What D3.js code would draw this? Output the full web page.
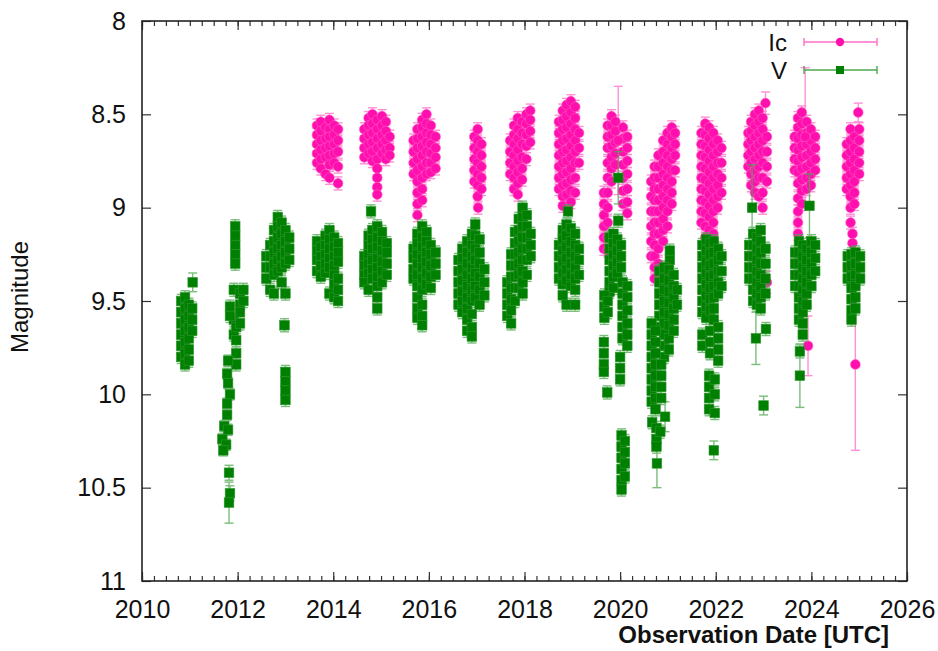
<!DOCTYPE html>
<html>
<head>
<meta charset="utf-8">
<script src="https://cdn.jsdelivr.net/npm/d3@7"></script>
<style>
  body { margin: 0; background: #fff; }
  svg { font-family: "Liberation Sans", Arial, sans-serif; }
</style>
</head>
<body>
<div id="chart"></div>
<script>
// tick labels
var xTicks = [2010, 2012, 2014, 2016, 2018, 2020, 2022, 2024, 2026];
var yTicks = [8, 8.5, 9, 9.5, 10, 10.5, 11];
var seriesNames = ["Ic", "V"];

// typical error when not given with the point
var defaultErr = 0.035;

// Ic observations: [date, [magnitudes...]]
var icColumns = [
  [2013.66, [8.56, 8.61, 8.66, 8.71, 8.76]],
  [2013.74, [8.54, 8.59, 8.64, 8.69, 8.74, 8.79]],
  [2013.84, [8.57, 8.63, 8.68, 8.73, 8.82]],
  [2013.92, [8.53, 8.58, 8.62, 8.67, 8.72, 8.77, 8.84]],
  [2014.02, [8.56, 8.61, 8.66, 8.71, 8.76]],
  [2014.10, [8.58, 8.64, 8.70, 8.78, 8.87]],
  [2014.65, [8.58, 8.63, 8.68, 8.73]],
  [2014.74, [8.52, 8.56, 8.61, 8.66, 8.71]],
  [2014.82, [8.50, 8.55, 8.60, 8.65, 8.70, 8.75]],
  [2014.92, [8.53, 8.58, 8.63, 8.68, 8.74, 8.79, 8.84, 8.89, 8.93]],
  [2015.02, [8.51, 8.56, 8.61, 8.66, 8.71]],
  [2015.10, [8.54, 8.59, 8.64, 8.69, 8.74]],
  [2015.18, [8.62, 8.68, 8.72]],
  [2015.68, [8.64, 8.70, 8.76, 8.82]],
  [2015.76, [8.58, 8.63, 8.68, 8.74, 8.80, 8.86, 8.92, 8.98, 9.04]],
  [2015.86, [8.53, 8.57, 8.62, 8.67, 8.72, 8.78, 8.84, 8.90, 8.96]],
  [2015.95, [8.50, 8.55, 8.60, 8.65, 8.70, 8.76, 8.82]],
  [2016.04, [8.56, 8.61, 8.66, 8.71, 8.76, 8.81]],
  [2016.14, [8.62, 8.68, 8.73, 8.79]],
  [2016.95, [8.62, 8.68, 8.74, 8.80, 8.86]],
  [2017.02, [8.58, 8.64, 8.70, 8.76, 8.82, 8.88, 8.94]],
  [2017.10, [8.66, 8.72, 8.78, 8.84, 8.90]],
  [2017.03, [9.00]],
  [2017.70, [8.64, 8.70, 8.76, 8.82]],
  [2017.78, [8.56, 8.61, 8.66, 8.72, 8.78, 8.84, 8.90]],
  [2017.86, [8.52, 8.58, 8.63, 8.69, 8.75, 8.81, 8.87, 8.93]],
  [2017.95, [8.54, 8.60, 8.66, 8.73, 8.79, 8.85]],
  [2018.04, [8.50, 8.55, 8.61, 8.67, 8.74]],
  [2018.12, [8.48, 8.53, 8.59, 8.65]],
  [2018.72, [8.54, 8.60, 8.66, 8.72, 8.78, 8.84, 8.90]],
  [2018.80, [8.48, 8.53, 8.58, 8.64, 8.70, 8.76, 8.82, 8.88, 8.94, 8.99]],
  [2018.88, [8.45, 8.51, 8.57, 8.63, 8.69, 8.75, 8.81, 8.87, 8.93]],
  [2018.97, [8.43, 8.49, 8.55, 8.61, 8.67, 8.73, 8.79, 8.85, 8.91, 8.97]],
  [2019.06, [8.46, 8.52, 8.58, 8.64, 8.70, 8.76, 8.84, 8.92]],
  [2019.14, [8.60, 8.68, 8.76]],
  [2019.66, [8.92, 8.98, 9.04, 9.10, 9.16, 9.22]],
  [2019.74, [8.56, 8.62, 8.68, 8.76, 8.84, 8.92, 9.00, 9.08, 9.16, 9.23]],
  [2019.82, [8.51, 8.56, 8.61, 8.67, 8.73, 8.79, 8.86]],
  [2019.90, [8.54, 8.59, 8.65, 8.71, 8.77]],
  [2020.06, [8.57, 8.63, 8.70, 8.77, 8.84, 8.91, 8.98]],
  [2020.15, [8.62, 8.68, 8.75, 8.82, 8.90, 8.97, 9.03]],
  [2020.65, [8.86, 8.94, 9.02, 9.10, 9.18, 9.26]],
  [2020.72, [8.78, 8.84, 8.90, 8.96, 9.02, 9.08, 9.14, 9.20, 9.26, 9.32, 9.38]],
  [2020.80, [8.72, 8.78, 8.84, 8.90, 8.96, 9.02, 9.08, 9.14, 9.22, 9.30]],
  [2020.90, [8.64, 8.70, 8.76, 8.82, 8.88, 8.94, 9.00, 9.06, 9.12, 9.18]],
  [2020.99, [8.60, 8.66, 8.72, 8.78, 8.84, 8.90, 8.96, 9.02, 9.10]],
  [2021.08, [8.57, 8.62, 8.68, 8.74, 8.80, 8.86, 8.92, 8.98]],
  [2021.15, [8.60, 8.66, 8.72, 8.80]],
  [2021.70, [8.60, 8.66, 8.72, 8.78, 8.84, 8.90, 8.96, 9.02, 9.08]],
  [2021.78, [8.55, 8.61, 8.67, 8.73, 8.79, 8.85, 8.91, 8.97, 9.03, 9.10, 9.16]],
  [2021.86, [8.57, 8.63, 8.69, 8.75, 8.81, 8.87, 8.93, 8.99, 9.05, 9.12, 9.20, 9.28]],
  [2021.95, [8.60, 8.66, 8.72, 8.78, 8.84, 8.90, 8.96, 9.02, 9.08, 9.14]],
  [2022.04, [8.64, 8.70, 8.76, 8.82, 8.88, 8.94, 9.00]],
  [2022.12, [8.68, 8.76, 8.84, 8.92]],
  [2022.68, [8.60, 8.66, 8.72, 8.78]],
  [2022.74, [8.54, 8.59, 8.64, 8.70, 8.76, 8.82, 8.88]],
  [2022.82, [8.50, 8.56, 8.62, 8.68, 8.74, 8.80, 8.86, 8.92]],
  [2022.90, [8.48, 8.54, 8.60, 8.66, 8.72, 8.78, 8.84, 8.94]],
  [2022.98, [8.52, 8.58, 8.64, 8.70, 8.76, 8.84, 8.92, 9.00]],
  [2023.07, [8.62, 8.70, 8.78, 8.86]],
  [2023.65, [8.62, 8.68, 8.74, 8.80]],
  [2023.72, [8.52, 8.57, 8.63, 8.69, 8.75, 8.81, 8.87, 8.95, 9.02, 9.08, 9.14]],
  [2023.80, [8.49, 8.55, 8.61, 8.67, 8.73, 8.79, 8.85, 8.91, 8.98]],
  [2023.90, [8.54, 8.60, 8.66, 8.72, 8.78, 8.84, 8.90]],
  [2023.99, [8.58, 8.64, 8.70, 8.76, 8.82, 8.88]],
  [2024.08, [8.62, 8.68, 8.74, 8.80]],
  [2024.74, [8.66, 8.72, 8.78, 8.84, 8.90]],
  [2024.82, [8.58, 8.64, 8.70, 8.76, 8.82, 8.88, 8.94, 9.00, 9.08]],
  [2024.90, [8.62, 8.68, 8.74, 8.80, 8.86, 8.92, 8.98]],
  [2025.00, [8.58, 8.64, 8.70, 8.76, 8.82]],
  [2024.86, [9.14, 9.19]]
];

// Ic points with their own error: [date, mag, err]
var icErrPoints = [
  [2019.96, 8.64, 0.29],
  [2023.04, 8.44, 0.06],
  [2023.07, 9.40, 0.06],
  [2023.87, 8.62, 0.37],
  [2023.93, 9.74, 0.16],
  [2024.98, 8.49, 0.05],
  [2024.92, 9.84, 0.46]
];

// V observations: [date, [magnitudes...]]
var vColumns = [
  [2010.82, [9.50, 9.56, 9.62, 9.68, 9.74, 9.80]],
  [2010.90, [9.48, 9.54, 9.60, 9.66, 9.72, 9.78, 9.84]],
  [2010.98, [9.52, 9.58, 9.64, 9.70, 9.76, 9.82]],
  [2011.05, [9.54, 9.60, 9.66]],
  [2011.95, [9.10, 9.15, 9.20, 9.25, 9.30]],
  [2011.92, [9.44, 9.60, 9.68]],
  [2011.84, [9.53, 9.58]],
  [2011.97, [9.64, 9.71, 9.78, 9.84]],
  [2012.05, [9.46, 9.52, 9.56, 9.62]],
  [2012.12, [9.44, 9.50]],
  [2012.60, [9.26, 9.32, 9.38]],
  [2012.68, [9.20, 9.26, 9.32, 9.44]],
  [2012.76, [9.12, 9.18, 9.24, 9.30, 9.36, 9.46]],
  [2012.84, [9.05, 9.10, 9.16, 9.22, 9.28, 9.34]],
  [2012.92, [9.08, 9.14, 9.20, 9.26, 9.32, 9.40]],
  [2013.00, [9.12, 9.18, 9.24, 9.30, 9.46]],
  [2013.08, [9.16, 9.22, 9.28]],
  [2012.98, [9.63]],
  [2013.00, [9.88, 9.93, 9.98, 10.03]],
  [2013.66, [9.18, 9.23, 9.28, 9.34]],
  [2013.74, [9.21, 9.26, 9.31, 9.37]],
  [2013.84, [9.15, 9.20, 9.25, 9.30, 9.35]],
  [2013.92, [9.12, 9.17, 9.22, 9.27, 9.32, 9.46]],
  [2014.02, [9.16, 9.21, 9.26, 9.31, 9.36, 9.41, 9.48]],
  [2014.10, [9.19, 9.24, 9.29, 9.38, 9.44, 9.50]],
  [2014.79, [9.02]],
  [2014.65, [9.26, 9.31, 9.36, 9.40]],
  [2014.74, [9.15, 9.20, 9.25, 9.30, 9.35, 9.44]],
  [2014.82, [9.12, 9.17, 9.22, 9.28, 9.33, 9.38]],
  [2014.92, [9.10, 9.16, 9.21, 9.27, 9.32, 9.37, 9.42, 9.48, 9.54]],
  [2015.02, [9.13, 9.18, 9.23, 9.29, 9.34, 9.40]],
  [2015.12, [9.19, 9.24, 9.30, 9.36]],
  [2015.68, [9.22, 9.27, 9.33, 9.38]],
  [2015.76, [9.14, 9.19, 9.25, 9.30, 9.36, 9.42, 9.48, 9.54, 9.59]],
  [2015.86, [9.10, 9.16, 9.21, 9.27, 9.32, 9.38, 9.44, 9.52, 9.58, 9.63]],
  [2015.95, [9.13, 9.18, 9.24, 9.29, 9.35, 9.41]],
  [2016.04, [9.20, 9.25, 9.31, 9.37, 9.43]],
  [2016.14, [9.24, 9.30, 9.36]],
  [2016.62, [9.28, 9.34, 9.40, 9.46, 9.52]],
  [2016.70, [9.22, 9.27, 9.33, 9.39, 9.45, 9.50, 9.56]],
  [2016.80, [9.18, 9.24, 9.30, 9.36, 9.42, 9.48, 9.54, 9.60, 9.66]],
  [2016.90, [9.14, 9.20, 9.26, 9.32, 9.38, 9.44, 9.50, 9.57, 9.64, 9.69]],
  [2016.97, [9.09, 9.15, 9.22, 9.28, 9.35, 9.42, 9.48]],
  [2017.06, [9.17, 9.24, 9.30, 9.37, 9.44, 9.52]],
  [2017.16, [9.33, 9.40, 9.47]],
  [2017.64, [9.40, 9.46, 9.52, 9.58]],
  [2017.72, [9.25, 9.31, 9.37, 9.43, 9.49, 9.55, 9.62]],
  [2017.80, [9.13, 9.19, 9.25, 9.31, 9.37, 9.43, 9.50]],
  [2017.88, [9.06, 9.12, 9.18, 9.24, 9.30, 9.36, 9.43]],
  [2017.96, [9.00, 9.05, 9.10, 9.16, 9.22, 9.28, 9.34, 9.40, 9.46]],
  [2018.05, [9.04, 9.10, 9.16, 9.22, 9.28, 9.36]],
  [2018.13, [9.14, 9.20, 9.26]],
  [2018.91, [9.02]],
  [2018.72, [9.20, 9.26, 9.32, 9.38]],
  [2018.80, [9.12, 9.17, 9.23, 9.29, 9.35, 9.41, 9.47]],
  [2018.88, [9.09, 9.15, 9.21, 9.27, 9.33, 9.39, 9.52]],
  [2018.97, [9.11, 9.18, 9.24, 9.30, 9.36, 9.42]],
  [2019.06, [9.14, 9.20, 9.26, 9.32, 9.38, 9.44, 9.52]],
  [2019.14, [9.22, 9.28, 9.36]],
  [2019.78, [9.16, 9.22, 9.28, 9.34, 9.40, 9.45]],
  [2019.86, [9.14, 9.19, 9.25, 9.31, 9.37, 9.43]],
  [2019.94, [9.17, 9.23, 9.29, 9.35]],
  [2020.02, [9.20, 9.26, 9.32]],
  [2019.67, [9.47, 9.53, 9.59]],
  [2019.74, [9.50, 9.56]],
  [2020.05, [9.40, 9.46, 9.52, 9.58, 9.64, 9.70]],
  [2020.15, [9.42, 9.48, 9.55, 9.62, 9.68, 9.74]],
  [2020.00, [9.80, 9.86, 9.92]],
  [2019.66, [9.72, 9.78, 9.84, 9.88]],
  [2019.73, [9.99]],
  [2020.03, [10.22, 10.28, 10.34, 10.40, 10.46, 10.51]],
  [2020.10, [10.25, 10.31, 10.37, 10.44]],
  [2019.96, [9.07]],
  [2021.04, [9.23, 9.28]],
  [2020.82, [9.34, 9.40, 9.46, 9.52, 9.58, 9.64]],
  [2020.92, [9.32, 9.38, 9.44, 9.50, 9.56, 9.62, 9.68, 9.74, 9.80]],
  [2021.02, [9.33, 9.39, 9.45, 9.51, 9.57, 9.63, 9.70, 9.76]],
  [2021.12, [9.36, 9.42, 9.48, 9.54, 9.60, 9.66]],
  [2021.19, [9.44, 9.52]],
  [2020.66, [9.62, 9.68, 9.74, 9.80, 9.86, 9.92, 9.98, 10.04]],
  [2020.74, [9.66, 9.72, 9.78, 9.84, 9.90, 9.96, 10.02, 10.08]],
  [2020.86, [9.84, 9.90, 9.96, 10.02]],
  [2020.67, [10.15]],
  [2020.76, [10.18, 10.24, 10.28]],
  [2020.84, [10.20]],
  [2021.72, [9.20, 9.26, 9.32, 9.38, 9.44, 9.50, 9.56, 9.68, 9.74]],
  [2021.80, [9.17, 9.23, 9.29, 9.35, 9.41, 9.47, 9.53, 9.59]],
  [2021.88, [9.19, 9.25, 9.31, 9.37, 9.43, 9.49, 9.55, 9.66, 9.72, 9.78]],
  [2021.96, [9.18, 9.24, 9.30, 9.36, 9.42, 9.48, 9.54, 9.60]],
  [2022.05, [9.22, 9.28, 9.34, 9.40, 9.46, 9.64, 9.70, 9.76, 9.82]],
  [2022.12, [9.26, 9.34, 9.42]],
  [2021.86, [9.90, 9.96, 10.02, 10.08]],
  [2021.98, [9.92, 10.00, 10.10]],
  [2022.70, [9.20, 9.26, 9.32, 9.38]],
  [2022.78, [9.14, 9.20, 9.26, 9.32, 9.38, 9.44, 9.50]],
  [2022.86, [9.16, 9.22, 9.28, 9.34, 9.40, 9.46, 9.52]],
  [2022.94, [9.12, 9.18, 9.24, 9.30, 9.36, 9.42, 9.48, 9.54]],
  [2023.04, [9.22, 9.30, 9.38, 9.46]],
  [2023.05, [9.65]],
  [2023.66, [9.24, 9.30, 9.36, 9.42]],
  [2023.74, [9.18, 9.24, 9.30, 9.36, 9.42, 9.48, 9.54, 9.60]],
  [2023.82, [9.20, 9.26, 9.32, 9.38, 9.44, 9.50, 9.56, 9.62, 9.68]],
  [2023.90, [9.22, 9.28, 9.34, 9.40, 9.46, 9.52]],
  [2024.00, [9.18, 9.24, 9.30, 9.36, 9.42]],
  [2024.08, [9.20, 9.27, 9.34]],
  [2023.76, [9.77]],
  [2024.76, [9.26, 9.32, 9.38]],
  [2024.84, [9.25, 9.31, 9.37, 9.43, 9.49, 9.55, 9.60]],
  [2024.92, [9.24, 9.30, 9.36, 9.42, 9.48, 9.54]],
  [2025.02, [9.26, 9.32, 9.38]]
];

// V points with their own error: [date, mag, err]
var vErrPoints = [
  [2011.06, 9.40, 0.05],
  [2011.80, 9.82, 0.03], [2011.78, 9.89, 0.03], [2011.80, 9.94, 0.03],
  [2011.84, 10.00, 0.03], [2011.78, 10.05, 0.03], [2011.78, 10.11, 0.03],
  [2011.72, 10.17, 0.03], [2011.80, 10.19, 0.03], [2011.68, 10.24, 0.03],
  [2011.76, 10.27, 0.03], [2011.70, 10.30, 0.03], [2011.82, 10.42, 0.04],
  [2011.84, 10.53, 0.04], [2011.82, 10.58, 0.11],
  [2019.96, 8.84, 0.14],
  [2020.77, 10.37, 0.13],
  [2020.94, 10.12, 0.08],
  [2021.96, 10.30, 0.05],
  [2022.76, 9.00, 0.23],
  [2022.84, 9.70, 0.14],
  [2023.00, 10.06, 0.05],
  [2023.76, 9.90, 0.17],
  [2023.96, 8.99, 0.17]
];

// flatten into {t, mag, err}
function toPoints(columns, extra) {
  var pts = [];
  columns.forEach(function(c) {
    c[1].forEach(function(m) { pts.push({t: c[0], mag: m, err: defaultErr}); });
  });
  extra.forEach(function(p) { pts.push({t: p[0], mag: p[1], err: p[2]}); });
  return pts;
}
var icData = toPoints(icColumns, icErrPoints);
var vData = toPoints(vColumns, vErrPoints);

var svgWidth = 938;
var svgHeight = 651;
var margin = {top: 21, right: 31, bottom: 70, left: 142};
var width = svgWidth - margin.left - margin.right;
var height = svgHeight - margin.top - margin.bottom;

var pink = "#ff0fae", pinkBar = "#ff6cc8";
var green = "#008000", greenBar = "#4fa84f";

var svg = d3.select("#chart").append("svg")
  .attr("width", svgWidth)
  .attr("height", svgHeight);

var chartGroup = svg.append("g")
  .attr("transform", `translate(${margin.left}, ${margin.top})`);

var xScale = d3.scaleLinear().domain([2010, 2026]).range([0, width]);
var yScale = d3.scaleLinear().domain([8, 11]).range([0, height]);

var minorX = d3.range(2010, 2026.001, 0.25);

// axes, ticks pointing inward
function styleAxis(g) {
  g.select(".domain").remove();
  g.selectAll(".tick line").attr("stroke", "#333").attr("stroke-width", 1.2);
  g.selectAll("text").attr("fill", "#111").attr("font-size", "25px");
}

chartGroup.append("g")
  .attr("transform", `translate(0, ${height})`)
  .call(d3.axisBottom(xScale).tickValues(minorX).tickSize(-5).tickFormat(""))
  .call(styleAxis);
chartGroup.append("g")
  .attr("transform", `translate(0, ${height})`)
  .call(d3.axisBottom(xScale).tickValues(xTicks).tickSize(-9).tickPadding(19).tickFormat(d => d))
  .call(styleAxis);
chartGroup.append("g")
  .call(d3.axisTop(xScale).tickValues(minorX).tickSize(-5).tickFormat(""))
  .call(styleAxis);
chartGroup.append("g")
  .call(d3.axisTop(xScale).tickValues(xTicks).tickSize(-9).tickFormat(""))
  .call(styleAxis);
chartGroup.append("g")
  .call(d3.axisLeft(yScale).tickValues(yTicks).tickSize(-9).tickPadding(16).tickFormat(d => String(d)))
  .call(styleAxis);
chartGroup.append("g")
  .attr("transform", `translate(${width}, 0)`)
  .call(d3.axisRight(yScale).tickValues(yTicks).tickSize(-9).tickFormat(""))
  .call(styleAxis);

// plotted data with error bars
var plotArea = chartGroup.append("g");
var cap = 4.5;

function drawBars(data, color) {
  var g = plotArea.append("g")
    .attr("stroke", color)
    .attr("stroke-width", 1.4)
    .attr("opacity", 0.75);
  g.selectAll("line.bar").data(data).enter().append("line")
    .attr("x1", d => xScale(d.t)).attr("x2", d => xScale(d.t))
    .attr("y1", d => yScale(d.mag - d.err)).attr("y2", d => yScale(d.mag + d.err));
  g.selectAll("line.top").data(data).enter().append("line")
    .attr("x1", d => xScale(d.t) - cap).attr("x2", d => xScale(d.t) + cap)
    .attr("y1", d => yScale(d.mag - d.err)).attr("y2", d => yScale(d.mag - d.err));
  g.selectAll("line.bot").data(data).enter().append("line")
    .attr("x1", d => xScale(d.t) - cap).attr("x2", d => xScale(d.t) + cap)
    .attr("y1", d => yScale(d.mag + d.err)).attr("y2", d => yScale(d.mag + d.err));
}

drawBars(icData, pinkBar);
plotArea.append("g").selectAll("circle")
  .data(icData)
  .enter()
  .append("circle")
  .attr("cx", d => xScale(d.t))
  .attr("cy", d => yScale(d.mag))
  .attr("r", 4.9)
  .attr("fill", pink)
  .attr("stroke", "#ff5cc4")
  .attr("stroke-width", 0.6);

drawBars(vData, greenBar);
var sq = 9.6;
plotArea.append("g").selectAll("rect")
  .data(vData)
  .enter()
  .append("rect")
  .attr("x", d => xScale(d.t) - sq / 2)
  .attr("y", d => yScale(d.mag) - sq / 2)
  .attr("width", sq)
  .attr("height", sq)
  .attr("fill", green)
  .attr("stroke", "#2f962f")
  .attr("stroke-width", 0.6);

// frame
chartGroup.append("rect")
  .attr("width", width)
  .attr("height", height)
  .attr("fill", "none")
  .attr("stroke", "#222")
  .attr("stroke-width", 1.6);

// legend
var legend = svg.append("g");
var legendRows = [
  {name: seriesNames[0], y: 42, color: pink, bar: pinkBar, shape: "circle"},
  {name: seriesNames[1], y: 70, color: green, bar: greenBar, shape: "square"}
];
legendRows.forEach(function(r) {
  legend.append("text")
    .attr("x", 787).attr("y", r.y)
    .attr("dy", "0.36em")
    .attr("text-anchor", "end")
    .attr("font-size", "24px")
    .attr("fill", "#111")
    .text(r.name);
  var lg = legend.append("g").attr("stroke", r.bar).attr("stroke-width", 1.4);
  lg.append("line").attr("x1", 804).attr("x2", 877).attr("y1", r.y).attr("y2", r.y);
  lg.append("line").attr("x1", 804).attr("x2", 804).attr("y1", r.y - 4).attr("y2", r.y + 4);
  lg.append("line").attr("x1", 877).attr("x2", 877).attr("y1", r.y - 4).attr("y2", r.y + 4);
  if (r.shape === "circle") {
    legend.append("circle").attr("cx", 840).attr("cy", r.y).attr("r", 4.2).attr("fill", r.color);
  } else {
    legend.append("rect").attr("x", 836).attr("y", r.y - 4).attr("width", 8).attr("height", 8).attr("fill", r.color);
  }
});

// axis titles
svg.append("text")
  .attr("transform", "rotate(-90)")
  .attr("x", -297)
  .attr("y", 28)
  .attr("text-anchor", "middle")
  .attr("font-size", "24px")
  .attr("fill", "#111")
  .text("Magnitude");

svg.append("text")
  .attr("x", 889)
  .attr("y", 643)
  .attr("text-anchor", "end")
  .attr("font-size", "24px")
  .attr("font-weight", "bold")
  .attr("fill", "#111")
  .text("Observation Date [UTC]");
</script>
</body>
</html>
